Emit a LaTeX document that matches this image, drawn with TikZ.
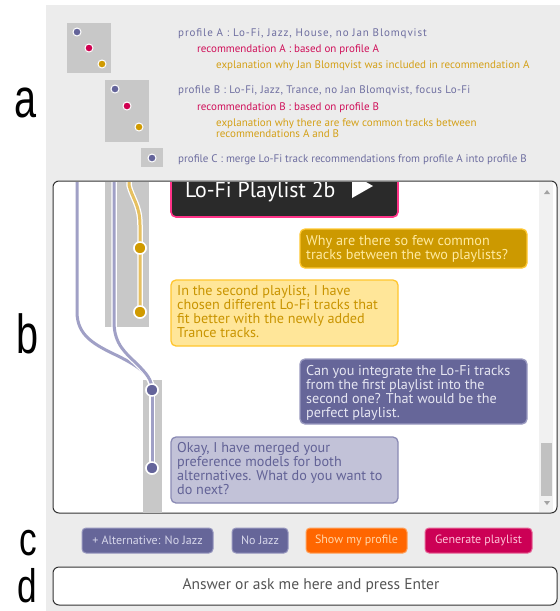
\documentclass[tikz,border=0pt]{standalone}
\usepackage{fontspec}
\setmainfont{PT Sans}
\newfontfamily\labfont{Liberation Sans}
\definecolor{bgg}{HTML}{ECECEC}
\definecolor{boxg}{HTML}{C8C8C8}
\definecolor{ptxt}{RGB}{110,110,160}
\definecolor{rtxt}{RGB}{208,16,90}
\definecolor{gtxt}{RGB}{212,160,23}
\definecolor{pdot}{HTML}{64649A}
\definecolor{rdot}{HTML}{D00050}
\definecolor{gdot}{HTML}{D09A00}
\definecolor{pline}{HTML}{A0A0C6}
\definecolor{gline}{HTML}{E6C060}
\definecolor{framec}{HTML}{333333}
\definecolor{dark}{HTML}{2A2A2A}
\definecolor{pinkb}{HTML}{FF3388}
\definecolor{bAfill}{HTML}{CC9900}
\definecolor{bAdraw}{HTML}{FFC832}
\definecolor{bAtxt}{HTML}{FFEAA0}
\definecolor{bBfill}{HTML}{FFE699}
\definecolor{bBdraw}{HTML}{FFC62E}
\definecolor{bBtxt}{HTML}{C99400}
\definecolor{bCfill}{HTML}{666699}
\definecolor{bCdraw}{HTML}{9A9AC0}
\definecolor{bCtxt}{HTML}{E6E6F2}
\definecolor{bDfill}{HTML}{C2C2D8}
\definecolor{bDdraw}{HTML}{8A8AB4}
\definecolor{bDtxt}{HTML}{626296}
\definecolor{orng}{HTML}{FF6600}
\definecolor{crim}{HTML}{CC0055}
\definecolor{sbtrack}{HTML}{F1F1F1}
\definecolor{sbthumb}{HTML}{C1C1C1}
\definecolor{sbarrow}{HTML}{A3A3A3}
\definecolor{pbtndraw}{HTML}{9696BE}
\definecolor{pbtntxt}{HTML}{D7D7EB}
\definecolor{obtndraw}{HTML}{FFA05A}
\definecolor{obtntxt}{HTML}{FFD7AA}
\definecolor{cbtndraw}{HTML}{E66496}
\definecolor{cbtntxt}{HTML}{FFC3D7}
\definecolor{inptxt}{HTML}{555555}
\newcommand{\mylines}[1]{\begin{tabular}[t]{@{}l@{}}#1\end{tabular}}
\begin{document}
\begin{tikzpicture}[x=1pt,y=-1pt,
  lab/.style={font=\labfont\fontsize{55}{60}\selectfont, inner sep=0, anchor=base},
  labs/.style={font=\labfont\fontsize{47}{52}\selectfont, inner sep=0, anchor=base},
  atext/.style={font=\fontsize{11}{11}\selectfont, inner sep=0, anchor=base west},
  adot/.style={circle, draw=white, line width=1pt, minimum size=8pt, inner sep=0},
  bdot/.style={circle, draw=white, line width=1.5pt, minimum size=12pt, inner sep=0},
  pl/.style={draw=pline, line width=3pt, preaction={draw=white, line width=5.5pt}},
  gl/.style={draw=gline, line width=3pt, preaction={draw=white, line width=5.5pt}},
  bubble/.style={rounded corners=5pt, line width=1.3pt},
  btext/.style={font=\fontsize{14.2}{13.4}\selectfont, inner sep=0, anchor=base west},
  btn/.style={rounded corners=4pt, inner sep=0, minimum height=25pt, font=\fontsize{12}{14}\selectfont, line width=1pt}
]
\useasboundingbox (0,0) rectangle (560,611);
\fill[bgg] (46,5) rectangle (560,611);

% side labels
\node[lab] (la) at (26,117) {\scalebox{0.72}[1]{a}};
\node[lab] (lb) at (28,353) {\scalebox{0.72}[1]{b}};
\node[labs] (lc) at (28,555) {\scalebox{0.75}[1]{c}};
\node[labs] (ld) at (27,602) {\scalebox{0.75}[1]{d}};

% ---- part a ----
\fill[boxg] (67,23) rectangle (111,73);
\fill[boxg] (105,80) rectangle (149,142);
\fill[boxg] (141,148) rectangle (163,167);
\node[adot, fill=pdot] (a1) at (77,32) {};
\node[adot, fill=rdot] (a2) at (89,48) {};
\node[adot, fill=gdot] (a3) at (102,64) {};
\node[adot, fill=pdot] (b1) at (115,89) {};
\node[adot, fill=rdot] (b2) at (127,106) {};
\node[adot, fill=gdot] (b3) at (139,127) {};
\node[adot, fill=pdot] (c1) at (152,158) {};

\node[atext, text=ptxt] (tpa) at (178,36.5) {\addfontfeatures{LetterSpace=8}profile A : Lo-Fi, Jazz, House, no Jan Blomqvist};
\node[atext, text=rtxt] (tra) at (197,52.5) {recommendation A : based on profile A};
\node[atext, text=gtxt] (tea) at (216,68.5) {explanation why Jan Blomqvist was included in recommendation A};
\node[atext, text=ptxt] (tpb) at (178,93.5) {\addfontfeatures{LetterSpace=3.5}profile B : Lo-Fi, Jazz, Trance, no Jan Blomqvist, focus Lo-Fi};
\node[atext, text=rtxt] (trb) at (197,110.5) {recommendation B : based on profile B};
\node[atext, text=gtxt] (teb) at (216,126.5) {\mylines{explanation why there are few common tracks between\\ recommendations A and B}};
\node[atext, text=ptxt] (tpc) at (178,162.5) {profile C : merge Lo-Fi track recommendations from profile A into profile B};

% ---- part b ----
\draw[draw=framec, fill=white, rounded corners=6pt, line width=1pt] (53,181) rectangle (557,513);
\begin{scope}
\clip (54,182) rectangle (556,512);
\fill[boxg] (105,175) rectangle (149,327);
\fill[boxg] (143,380) rectangle (162,515);
\coordinate (ytop) at (129,175);
\coordinate (l1top) at (77,175);
\coordinate (l2top) at (114,175);
\node[bdot, fill=gdot] (y1) at (140,248) {};
\node[bdot, fill=gdot] (y2) at (140,312) {};
\node[bdot, fill=pdot] (p1) at (152,390) {};
\node[bdot, fill=pdot] (p2) at (152,468) {};
\draw[pl] (l1top) -- (77,312) .. controls (77,336) and (95,345) .. (118,356) .. controls (140,367) and (152,376) .. (p1.center);
\draw[pl] (l2top) -- (114,322) .. controls (114,345) and (127,354) .. (137,364) .. controls (147,374) and (152,380) .. (p1.center);
\draw[gl] (ytop) -- (129,185) .. controls (132,198) and (140,205) .. (140,225) -- (y1.center) -- (y2.center);
\draw[pl] (p1.center) -- (p2.center);
\node[bdot, fill=gdot] at (y1) {};
\node[bdot, fill=gdot] at (y2) {};
\node[bdot, fill=pdot] at (p1) {};
\node[bdot, fill=pdot] at (p2) {};

% playlist button
\draw[draw=pinkb, fill=dark, line width=1.6pt, rounded corners=5pt] (171,140) rectangle (398,217);
\node[inner sep=0, anchor=base west, text=white, font=\fontsize{21.8}{24}\selectfont] (plt) at (185,197.5) {Lo-Fi Playlist 2b};
\fill[white] (352,174) -- (373,186) -- (352,198) -- cycle;

% bubbles
\draw[bubble, fill=bAfill, draw=bAdraw] (300,229) rectangle (527,268);
\node[btext, text=bAtxt] (m1) at (306,245.5) {\mylines{Why are there so few common\\ tracks between the two playlists?}};
\draw[bubble, fill=bBfill, draw=bBdraw] (171,280) rectangle (398,346);
\node[btext, text=bBtxt] (m2) at (177,295.5) {\mylines{In the second playlist, I have\\ chosen different Lo-Fi tracks that\\ fit better with the newly added\\ Trance tracks.}};
\draw[bubble, fill=bCfill, draw=bCdraw] (300,359) rectangle (527,424);
\node[btext, text=bCtxt] (m3) at (306,375) {\mylines{Can you integrate the Lo-Fi tracks\\ from the first playlist into the\\ second one? That would be the\\ perfect playlist.}};
\draw[bubble, fill=bDfill, draw=bDdraw] (171,437) rectangle (398,503);
\node[btext, text=bDtxt] (m4) at (177,452.5) {\mylines{Okay, I have merged your\\ preference models for both\\ alternatives. What do you want to\\ do next?}};

% scrollbar
\fill[sbtrack] (539,182) rectangle (553,512);
\fill[sbthumb] (541,443) rectangle (552,496);
\fill[sbarrow] (544,194) -- (550,194) -- (547,190) -- cycle;
\fill[sbarrow] (544,501) -- (550,501) -- (547,505) -- cycle;
\end{scope}

% ---- part c ----
\node[btn, fill=bCfill, draw=pbtndraw, text=pbtntxt, minimum width=131pt] (c1b) at (147.5,540.5) {+ Alternative: No Jazz};
\node[btn, fill=bCfill, draw=pbtndraw, text=pbtntxt, minimum width=56pt] (c2b) at (260,540.5) {No Jazz};
\node[btn, fill=orng, draw=obtndraw, text=obtntxt, minimum width=101pt] (c3b) at (356.5,540.5) {Show my profile};
\node[btn, fill=crim, draw=cbtndraw, text=cbtntxt, minimum width=107pt] (c4b) at (478.5,540.5) {Generate playlist};

% ---- part d ----
\draw[draw=framec, fill=white, rounded corners=6pt, line width=1pt] (53,567) rectangle (557,605);
\node[inner sep=0, text=inptxt, font=\fontsize{15.5}{17}\selectfont] (inp) at (311,586) {Answer or ask me here and press Enter};
\end{tikzpicture}
\end{document}
